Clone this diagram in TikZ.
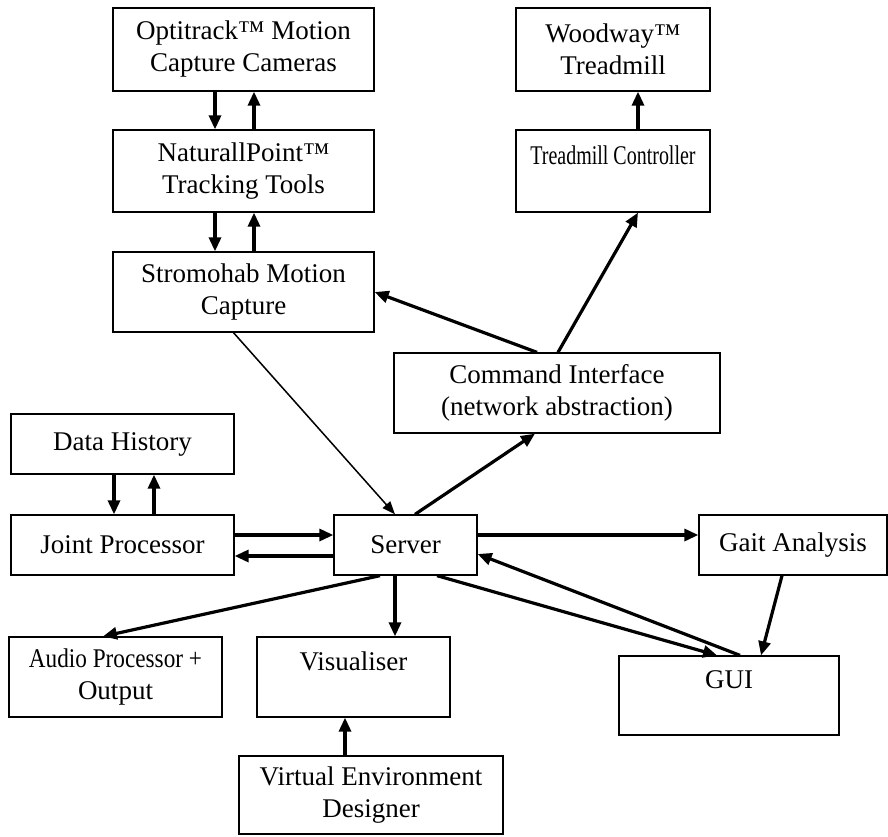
\documentclass[tikz,border=0pt]{standalone}
\usepackage{fontspec}
\setmainfont{Liberation Serif}
\usetikzlibrary{arrows.meta, positioning}

\begin{document}
\begin{tikzpicture}[
    x=1pt, y=-1pt,
    box/.style={draw, line width=1.3pt, inner sep=0, align=center, font=\fontsize{27}{32}\selectfont},
    link/.style={-{Triangle[length=14pt, width=12pt]}, line width=3.2pt},
    thinlink/.style={-{Triangle[length=13pt, width=10pt]}, line width=1.5pt},
  ]
  \useasboundingbox (0,0) rectangle (888,836);

  % Blocks
  \node [box, minimum width=261pt, minimum height=83pt] (opti) at (243.5,49.5) {Optitrack™ Motion\\Capture Cameras};
  \node [box, minimum width=261pt, minimum height=82pt] (natural) at (243.5,171) {NaturallPoint™\\Tracking Tools};
  \node [box, minimum width=261pt, minimum height=80pt] (stromo) at (243.5,292) {Stromohab Motion\\Capture};
  \node [box, minimum width=194pt, minimum height=83pt] (woodway) at (613,49.5) {Woodway™\\Treadmill};
  \node [box, minimum width=194pt, minimum height=82pt] (tcontrol) at (613,171) {\scalebox{0.74}[1]{Treadmill Controller}\\\mbox{}};
  \node [box, minimum width=326pt, minimum height=80pt] (cmd) at (557,393) {Command Interface\\(network abstraction)};
  \node [box, minimum width=223pt, minimum height=60pt] (history) at (122.5,444) {Data History};
  \node [box, minimum width=223pt, minimum height=60pt] (joint) at (122.5,545) {Joint Processor};
  \node [box, minimum width=143pt, minimum height=60pt] (server) at (405.5,545) {Server};
  \node [box, minimum width=188pt, minimum height=60pt] (gait) at (793,545) {Gait Analysis};
  \node [box, minimum width=213pt, minimum height=80pt] (audio) at (115.5,677) {\scalebox{0.86}[1]{Audio Processor +}\\Output};
  \node [box, minimum width=193pt, minimum height=80pt] (visual) at (353.5,677) {Visualiser\\\mbox{}};
  \node [box, minimum width=220pt, minimum height=79pt] (gui) at (729,695.5) {GUI\\\mbox{}};
  \node [box, minimum width=264pt, minimum height=78pt] (vedesign) at (371,795) {Virtual Environment\\Designer};

  % Paired links
  \foreach \a/\b/\dn/\up in {opti/natural/-28.5/10.5, natural/stromo/-28.5/10.5, history/joint/-8.5/31.5}{%
    \draw [link] ([xshift=\dn pt]\a.south) -- ([xshift=\dn pt]\b.north);
    \draw [link] ([xshift=\up pt]\b.north) -- ([xshift=\up pt]\a.south);
  };

  % Treadmill side
  \draw [link] ([xshift=25pt]tcontrol.north) -- ([xshift=25pt]woodway.south);
  \draw [link] ([xshift=1pt]cmd.north) -- ([xshift=25pt]tcontrol.south);
  \draw [link] ([xshift=-20pt]cmd.north) -- (stromo.east);

  % Server links
  \draw [thinlink] ([xshift=-10pt]stromo.south) -- ([xshift=-10.5pt]server.north);
  \draw [link] ([xshift=9.5pt]server.north) -- ([xshift=-22pt]cmd.south);
  \draw [link] ([yshift=10pt]joint.east) -- ([yshift=10pt]server.west);
  \draw [link] ([yshift=-11pt]server.west) -- ([yshift=-11pt]joint.east);
  \draw [link] ([yshift=10pt]server.east) -- ([yshift=10pt]gait.west);
  \draw [link] ([xshift=-11pt]gait.south) -- ([xshift=32pt]gui.north);
  \draw [link] ([xshift=31.5pt]server.south) -- ([xshift=-12pt]gui.north);
  \draw [link] ([xshift=11pt]gui.north) -- ([yshift=-9pt]server.east);
  \draw [link] ([xshift=-10.5pt]server.south) -- ([xshift=41.5pt]visual.north);
  \draw [link] ([xshift=-25.5pt]server.south) -- ([xshift=-12.5pt]audio.north);
  \draw [link] ([xshift=-26pt]vedesign.north) -- ([xshift=-8.5pt]visual.south);
\end{tikzpicture}
\end{document}
